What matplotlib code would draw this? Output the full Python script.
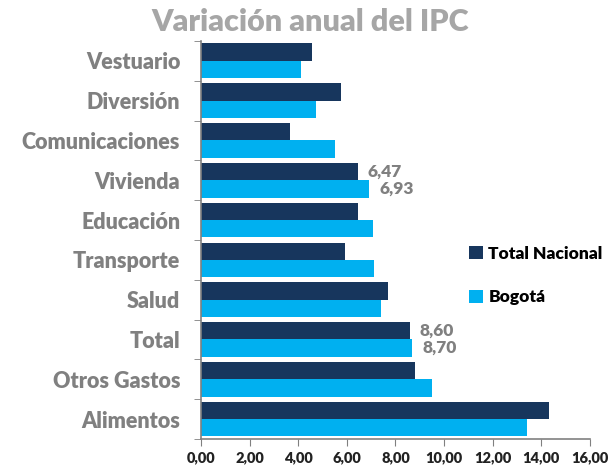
import matplotlib

matplotlib.use("Agg")
import matplotlib.pyplot as plt
import numpy as np

categories = ["Vestuario", "Diversión", "Comunicaciones", "Vivienda", "Educación",
              "Transporte", "Salud", "Total", "Otros Gastos", "Alimentos"]
total_nacional = [4.58, 5.75, 3.65, 6.47, 6.45, 5.92, 7.69, 8.60, 8.81, 14.31]
bogota = [4.13, 4.72, 5.50, 6.93, 7.07, 7.11, 7.40, 8.70, 9.51, 13.42]
labelled = ["Vivienda", "Total"]
x_ticks = [0, 2, 4, 6, 8, 10, 12, 14, 16]

NAVY = "#17365d"
BLUE = "#00b0f0"
GRAY = "#808080"

plt.rcParams["font.family"] = ["Lato", "DejaVu Sans"]

fig = plt.figure(figsize=(6.1, 4.7), dpi=100)
ax = fig.add_axes([0.3295, 0.066, 0.6375, 0.847])

y = np.arange(len(categories))
h = 0.435
ax.barh(y - h / 2, total_nacional, height=h, color=NAVY, label="Total Nacional")
ax.barh(y + h / 2, bogota, height=h, color=BLUE, label="Bogotá")

for i, cat in enumerate(categories):
    if cat in labelled:
        for val, off in ((total_nacional[i], -h / 2), (bogota[i], h / 2)):
            ax.annotate(f"{val:.2f}".replace(".", ","), (val, y[i] + off),
                        xytext=(7, 0), textcoords="offset points",
                        va="center", ha="left", fontsize=12.5, fontweight="heavy", color=GRAY)

ax.set_xlim(0, 16)
ax.set_ylim(len(categories) - 0.5, -0.5)
ax.set_xticks(x_ticks)
ax.set_xticklabels([f"{t:.2f}".replace(".", ",") for t in x_ticks],
                   fontsize=10.5, fontweight="heavy", color="#222222")
ax.set_yticks(y)
ax.set_yticklabels(categories, fontsize=15.5, fontweight="heavy", color=GRAY)
ax.set_yticks(np.arange(-0.5, len(categories)), minor=True)
ax.tick_params(axis="y", which="major", length=0, pad=15)
ax.tick_params(axis="y", which="minor", length=5, color=GRAY)
ax.tick_params(axis="x", length=5, color=GRAY, pad=4)

for side in ("top", "right"):
    ax.spines[side].set_visible(False)
for side in ("left", "bottom"):
    ax.spines[side].set_color(GRAY)
    ax.spines[side].set_linewidth(1.2)

fig.text(0.508, 0.953, "Variación anual del IPC", ha="center", va="center",
         fontsize=22, fontweight="heavy", color="#a6a6a6")

leg = ax.legend(loc="upper left", bbox_to_anchor=(0.65, 0.525), frameon=False,
                handlelength=0.8, handleheight=0.8, handletextpad=0.3,
                labelspacing=1.6, prop={"size": 12.5, "weight": "heavy"})

fig.savefig("out.png", dpi=100)
